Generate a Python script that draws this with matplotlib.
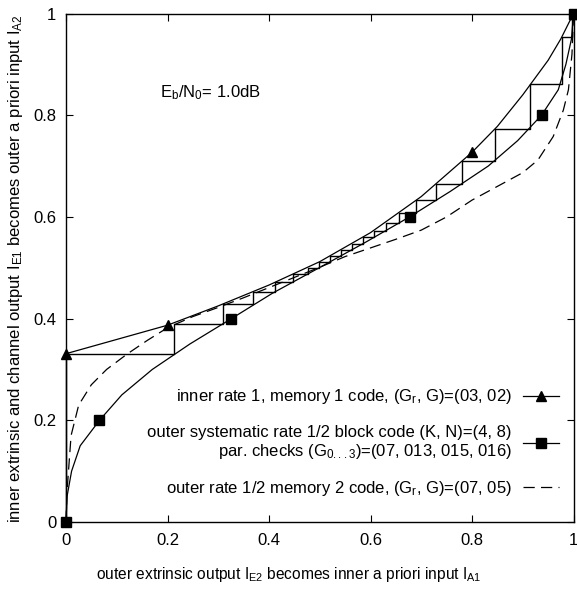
import matplotlib
matplotlib.use("Agg")
import matplotlib.pyplot as plt
from matplotlib.lines import Line2D

plt.rcParams['font.family'] = ['Liberation Sans', 'DejaVu Sans']
plt.rcParams['mathtext.fontset'] = 'custom'
plt.rcParams['mathtext.rm'] = 'Liberation Sans'
plt.rcParams['mathtext.it'] = 'Liberation Sans:italic'
plt.rcParams['mathtext.bf'] = 'Liberation Sans:bold'

# inner rate-1 memory-1 code transfer curve (I_A1 -> I_E1)
inner_x = [0, 0.1, 0.2, 0.3, 0.4, 0.5, 0.6, 0.7, 0.8, 0.85, 0.9, 0.95, 0.975, 1.0]
inner_y = [0.331, 0.359, 0.387, 0.425, 0.466, 0.512, 0.569, 0.640, 0.727, 0.778, 0.840, 0.908, 0.950, 1.0]
inner_mark_x = [0, 0.2, 0.8, 1.0]
inner_mark_y = [0.331, 0.387, 0.727, 1.0]

# outer block code transfer curve (I_A2 on y-axis -> I_E2 on x-axis)
block_y = [0, 0.05, 0.1, 0.15, 0.2, 0.25, 0.3, 0.35, 0.4, 0.45, 0.5, 0.55, 0.6, 0.65, 0.7, 0.75, 0.8, 0.85, 0.9, 0.95, 1.0]
block_x = [0, 0.002, 0.011, 0.028, 0.066, 0.110, 0.170, 0.244, 0.326, 0.407, 0.499, 0.590, 0.677, 0.757, 0.832, 0.890, 0.937, 0.970, 0.985, 0.996, 1.0]
block_mark_y = [0, 0.2, 0.4, 0.6, 0.8, 1.0]
block_mark_x = [0, 0.066, 0.326, 0.677, 0.937, 1.0]

# outer rate-1/2 memory-2 convolutional code (dashed)
conv_x = [0, 0.002, 0.01, 0.025, 0.05, 0.08, 0.12, 0.16, 0.2, 0.25, 0.3, 0.35, 0.4, 0.45, 0.5, 0.55,
          0.6, 0.65, 0.7, 0.75, 0.8, 0.85, 0.9, 0.93, 0.96, 0.98, 0.99, 0.997, 1.0]
conv_y = [0, 0.06, 0.17, 0.23, 0.27, 0.30, 0.33, 0.357, 0.382, 0.404, 0.422, 0.441, 0.461, 0.481, 0.501, 0.522,
          0.539, 0.556, 0.574, 0.600, 0.633, 0.660, 0.687, 0.712, 0.758, 0.810, 0.850, 0.920, 1.0]

# decoding trajectory: vertical steps at traj_x, horizontal steps at traj_y
traj_x = [0, 0.213, 0.310, 0.369, 0.412, 0.447, 0.476, 0.499, 0.520, 0.541, 0.563, 0.585, 0.606,
          0.630, 0.656, 0.690, 0.730, 0.781, 0.845, 0.914, 0.977, 0.997]
traj_y = [0.331, 0.390, 0.429, 0.453, 0.471, 0.488, 0.500, 0.512, 0.524, 0.535, 0.547, 0.560, 0.573,
          0.588, 0.607, 0.633, 0.665, 0.709, 0.772, 0.861, 0.953, 1.0]

ticks = [0, 0.2, 0.4, 0.6, 0.8, 1]
tick_labels = ['0', '0.2', '0.4', '0.6', '0.8', '1']

labels = [
    r"inner rate 1, memory 1 code, (G$_{\rm r}$, G)=(03, 02)",
    "outer systematic rate 1/2 block code (K, N)=(4, 8)\n"
    r"par. checks (G$_{\rm 0...3}$)=(07, 013, 015, 016)",
    r"outer rate 1/2 memory 2 code, (G$_{\rm r}$, G)=(07, 05)",
]

FS = 12
fig = plt.figure(figsize=(5.77, 5.94), dpi=100)
ax = fig.add_axes([66 / 577, 72 / 594, 507.5 / 577, 508.5 / 594])

# trajectory path
px = [traj_x[0]]
py = [0]
for k in range(len(traj_x)):
    px.append(traj_x[k]); py.append(traj_y[k])
    if k + 1 < len(traj_x):
        px.append(traj_x[k + 1]); py.append(traj_y[k])
ax.plot(px, py, color='black', lw=1.0, clip_on=False, zorder=3)

ax.plot(inner_x, inner_y, color='black', lw=0.9, clip_on=False, zorder=3)
ax.plot(inner_mark_x, inner_mark_y, ls='none', marker='^', ms=7.5, color='black', clip_on=False, zorder=4)
ax.plot(block_x, block_y, color='black', lw=0.9, clip_on=False, zorder=3)
ax.plot(block_mark_x, block_mark_y, ls='none', marker='s', ms=6.5, color='black', clip_on=False, zorder=4)
ax.plot(conv_x, conv_y, color='black', lw=0.9, dashes=(9, 5), clip_on=False, zorder=3)

ax.set_xlim(0, 1)
ax.set_ylim(0, 1)
ax.set_xticks(ticks)
ax.set_xticklabels(tick_labels)
ax.set_yticks(ticks)
ax.set_yticklabels(tick_labels)
ax.tick_params(direction='in', length=5, width=0.8, top=True, right=True, labelsize=FS)
ax.tick_params(axis='x', pad=8)
ax.tick_params(axis='y', pad=7)
for s in ax.spines.values():
    s.set_linewidth(1.0)

ax.text(0.185, 0.845, r"E$_{\rm b}$/N$_{\rm 0}$= 1.0dB", fontsize=FS, ha='left', va='center',
        transform=ax.transAxes)

fig.text(289 / 577, 1 - 575 / 594, r"outer extrinsic output I$_{\rm E2}$ becomes inner a priori input I$_{\rm A1}$",
         fontsize=11.2, ha='center', va='center')
fig.text(16 / 577, 1 - 269 / 594,
         r"inner extrinsic and channel output I$_{\rm E1}$ becomes outer a priori input I$_{\rm A2}$",
         fontsize=12, ha='center', va='center', rotation=90)

handles = [
    Line2D([], [], color='black', lw=0.9, marker='^', ms=7.5),
    Line2D([], [], color='black', lw=0.9, marker='s', ms=6.5),
    Line2D([], [], color='black', lw=0.9, dashes=(9, 5)),
]
leg = ax.legend(handles, labels, loc='lower right', bbox_to_anchor=(0.972, 0.047), frameon=False,
                markerfirst=False, fontsize=FS, handlelength=2.2, handletextpad=0.65,
                labelspacing=1.1, borderpad=0, borderaxespad=0)
for t in leg.get_texts():
    t.set_multialignment('right')
    t.set_linespacing(1.15)

fig.savefig('out.png', dpi=100)
